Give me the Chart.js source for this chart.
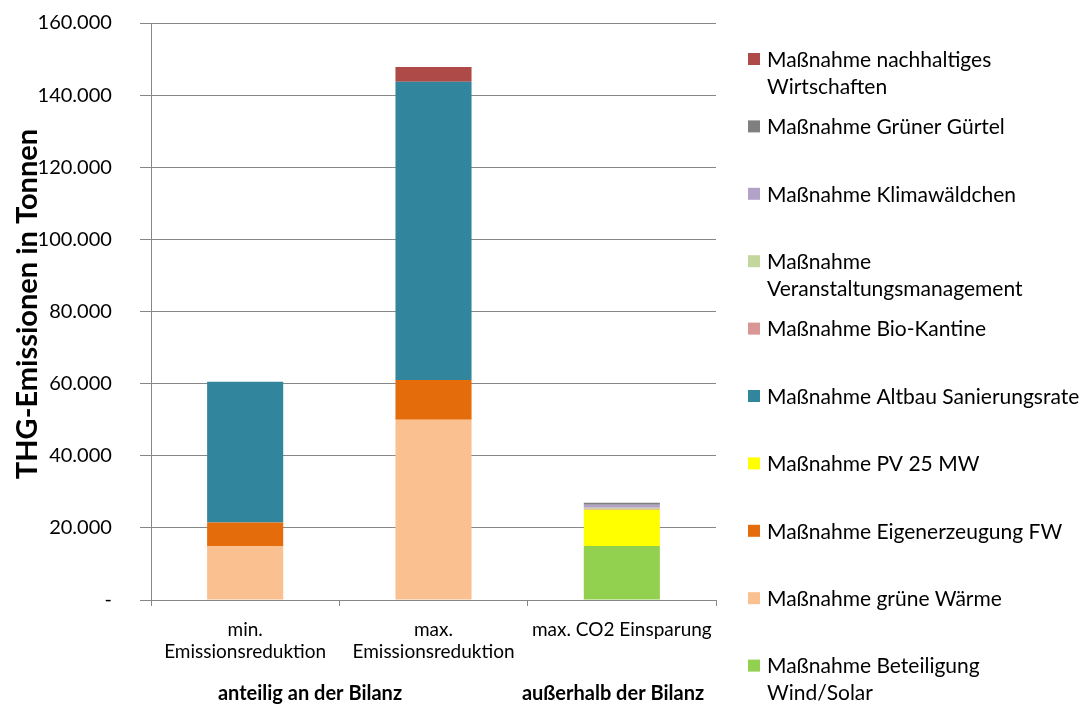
<!DOCTYPE html>
<html>
<head>
<meta charset="utf-8">
<script src="https://cdn.jsdelivr.net/npm/chart.js@4/dist/chart.umd.min.js"></script>
<style>
  html, body { margin: 0; padding: 0; background: #ffffff; }
  #wrap { position: relative; width: 1085px; height: 706px; }
</style>
</head>
<body>
<div id="wrap"><canvas id="c" width="1085" height="706"></canvas></div>
<script>
// Categories (x axis) and the group captions below them
const categories = [['min.', 'Emissionsreduktion'], ['max.', 'Emissionsreduktion'], ['max. CO2 Einsparung']];
const groupLabels = ['anteilig an der Bilanz', 'außerhalb der Bilanz'];

// Y axis ticks (t CO2e)
const yTicks = [0, 20000, 40000, 60000, 80000, 100000, 120000, 140000, 160000];

// Series names, bottom of the stack first ("\n" marks the legend line break)
const seriesNames = [
  'Maßnahme Beteiligung\nWind/Solar',
  'Maßnahme grüne Wärme',
  'Maßnahme Eigenerzeugung FW',
  'Maßnahme PV 25 MW',
  'Maßnahme Altbau Sanierungsrate',
  'Maßnahme Bio-Kantine',
  'Maßnahme\nVeranstaltungsmanagement',
  'Maßnahme Klimawäldchen',
  'Maßnahme Grüner Gürtel',
  'Maßnahme nachhaltiges\nWirtschaften'
];

// Values per category: min. Reduktion, max. Reduktion, max. CO2 Einsparung
const beteiligungWindSolar   = [0, 0, 15000];
const grueneWaerme           = [15000, 50000, 0];
const eigenerzeugungFW       = [6500, 11000, 0];
const pv25MW                 = [0, 0, 10000];
const altbauSanierungsrate   = [39000, 82700, 0];
const bioKantine             = [0, 0, 300];
const veranstaltungsmgmt     = [0, 0, 300];
const klimawaeldchen         = [0, 0, 800];
const gruenerGuertel         = [0, 0, 600];
const nachhaltigesWirtschaften = [0, 4100, 0];

const seriesColors = ['#92D050', '#FAC090', '#E46C0A', '#FFFF00', '#31859C',
                      '#D99694', '#C3D69B', '#B3A2C7', '#7F7F7F', '#AE4A48'];
const seriesValues = [beteiligungWindSolar, grueneWaerme, eigenerzeugungFW, pv25MW,
                      altbauSanierungsrate, bioKantine, veranstaltungsmgmt,
                      klimawaeldchen, gruenerGuertel, nachhaltigesWirtschaften];

const FONT = 'Lato';
const TEXT = '#000000';

function fmtDe(v) {
  if (v === 0) return '- ';
  return String(v).replace(/\B(?=(\d{3})+(?!\d))/g, '.') + ' ';
}

const datasets = seriesNames.map((name, i) => ({
  label: name.replace('\n', ' '),
  legendText: name.split('\n'),
  data: seriesValues[i],
  backgroundColor: seriesColors[i],
  borderWidth: 0,
  barPercentage: 0.404,
  categoryPercentage: 1.0
}));

// Right-hand legend, top entry = top of the stack
const sideLegend = {
  id: 'sideLegend',
  afterDraw(chart) {
    const ctx = chart.ctx;
    const ds = chart.data.datasets.slice().reverse();
    const x0 = 748, top = 59, step = 67.4, lineH = 27, box = 12;
    ctx.save();
    ctx.font = '21px ' + FONT;
    ctx.textBaseline = 'middle';
    ctx.textAlign = 'left';
    ds.forEach((d, i) => {
      const y = top + i * step;
      ctx.fillStyle = d.backgroundColor;
      ctx.fillRect(x0, y - box / 2, box, box);
      ctx.fillStyle = TEXT;
      d.legendText.forEach((line, k) => ctx.fillText(line, x0 + 19, y + 1 + k * lineH));
    });
    ctx.restore();
  }
};

// Y axis title and the group captions under the categories
const captions = {
  id: 'captions',
  afterDraw(chart) {
    const ctx = chart.ctx;
    ctx.save();
    ctx.fillStyle = TEXT;
    ctx.textAlign = 'center';
    ctx.textBaseline = 'middle';
    ctx.font = 'bold 29px ' + FONT;
    ctx.translate(28, 304);
    ctx.rotate(-Math.PI / 2);
    ctx.fillText('THG-Emissionen in Tonnen', 0, 0);
    ctx.restore();

    ctx.save();
    ctx.fillStyle = TEXT;
    ctx.textAlign = 'center';
    ctx.textBaseline = 'middle';
    ctx.font = 'bold 20px ' + FONT;
    ctx.fillText(groupLabels[0], 310, 694);
    ctx.fillText(groupLabels[1], 613, 694);
    ctx.restore();
  }
};

function build() {
  new Chart(document.getElementById('c'), {
    type: 'bar',
    data: { labels: categories, datasets: datasets },
    plugins: [sideLegend, captions],
    options: {
      responsive: false,
      animation: false,
      devicePixelRatio: 1,
      layout: { padding: { top: 23, right: 369, left: 0, bottom: 0 } },
      plugins: { legend: { display: false }, tooltip: { enabled: false } },
      scales: {
        x: {
          stacked: true,
          afterFit(scale) { scale.height = 106; scale.paddingLeft = 0; scale.paddingRight = 0; },
          grid: { offset: true, drawOnChartArea: false, drawTicks: true, tickLength: 6, color: '#878787', lineWidth: 1 },
          border: { display: true, color: '#878787', width: 1 },
          ticks: { color: TEXT, font: { family: FONT, size: 19, lineHeight: 1.2 }, padding: 12, maxRotation: 0, autoSkip: false }
        },
        y: {
          stacked: true,
          min: 0,
          max: 160000,
          afterFit(scale) { scale.width = 151; scale.paddingTop = 0; scale.paddingBottom = 0; },
          afterBuildTicks(scale) { scale.ticks = yTicks.map(v => ({ value: v })); },
          grid: { color: '#878787', lineWidth: 1, tickLength: 11 },
          border: { display: true, color: '#878787', width: 1 },
          ticks: { color: TEXT, font: { family: FONT, size: 20 }, padding: 23, callback: v => fmtDe(v) }
        }
      }
    }
  });
}

if (document.fonts && document.fonts.load) {
  Promise.all([document.fonts.load('18px Lato'), document.fonts.load('bold 18px Lato')]).then(build, build);
} else {
  build();
}
</script>
</body>
</html>
